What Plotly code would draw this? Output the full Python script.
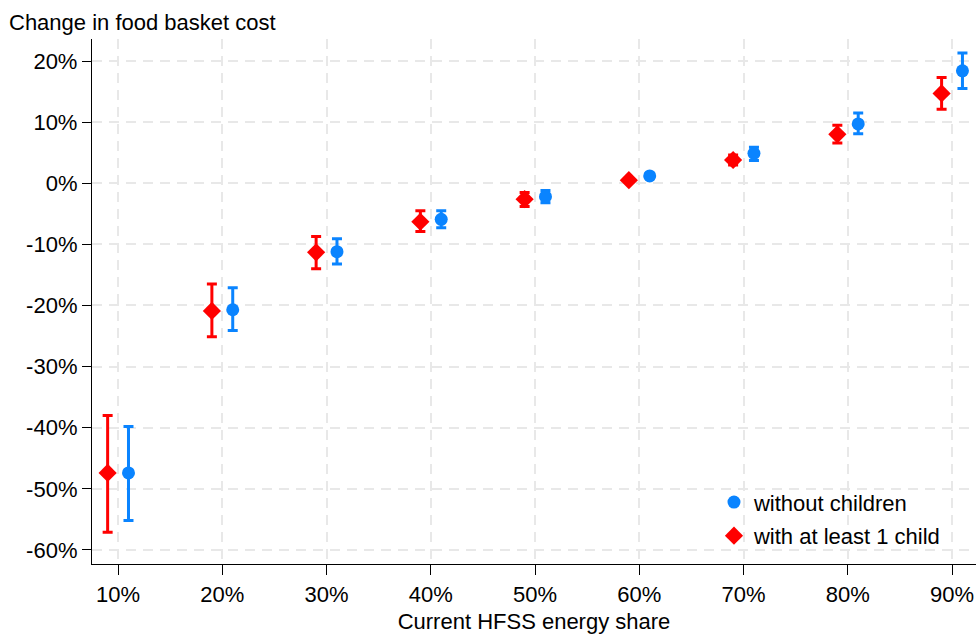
import plotly.graph_objects as go

# Current HFSS energy share (%) for each household bin
shares = [10, 20, 30, 40, 50, 60, 70, 80, 90]

# Households without children: estimate and 95% interval (%)
without_est = [-47.4, -20.7, -11.2, -5.9, -2.2, 1.2, 4.9, 9.7, 18.4]
without_lo = [-55.2, -24.1, -13.2, -7.3, -3.2, 0.8, 3.7, 8.1, 15.5]
without_hi = [-39.8, -17.1, -9.1, -4.5, -1.2, 1.6, 5.9, 11.5, 21.3]

# Households with at least one child: estimate and 95% interval (%)
child_est = [-47.4, -20.9, -11.3, -6.3, -2.6, 0.5, 3.8, 8.0, 14.7]
child_lo = [-57.1, -25.1, -14.0, -7.9, -3.8, 0.2, 3.0, 6.6, 12.1]
child_hi = [-38.0, -16.5, -8.7, -4.5, -1.5, 0.8, 4.6, 9.5, 17.3]

y_ticks = [-60, -50, -40, -30, -20, -10, 0, 10, 20]

BLUE = "#0a84ff"
RED = "#ff0000"
FONT = "Liberation Sans"
FS = 22
DODGE = 1.0  # horizontal offset so the two groups sit side by side


def err(est, lo, hi):
    plus = [h - e for e, h in zip(est, hi)]
    minus = [e - l for e, l in zip(est, lo)]
    return plus, minus


fig = go.Figure()

wp, wm = err(without_est, without_lo, without_hi)
fig.add_trace(go.Scatter(
    x=[s + DODGE for s in shares], y=without_est,
    mode="markers", name="without children", legendgroup="a",
    marker=dict(symbol="circle", size=13, color=BLUE),
    error_y=dict(type="data", symmetric=False, array=wp, arrayminus=wm,
                 color=BLUE, thickness=3, width=5),
))

cp, cm = err(child_est, child_lo, child_hi)
fig.add_trace(go.Scatter(
    x=[s - DODGE for s in shares], y=child_est,
    mode="markers", name="with at least 1 child", legendgroup="b",
    marker=dict(symbol="diamond", size=14, color=RED),
    error_y=dict(type="data", symmetric=False, array=cp, arrayminus=cm,
                 color=RED, thickness=3, width=5),
))

txt = dict(family=FONT, size=FS, color="black")
grid = dict(showgrid=True, gridcolor="#e8e8e8", gridwidth=2, griddash="10px,7px")
axis_common = dict(showline=True, linecolor="black", linewidth=1.3,
                   ticks="outside", tickcolor="black", tickwidth=1.3,
                   zeroline=False, tickfont=txt, **grid)

fig.update_layout(
    width=976, height=634,
    margin=dict(l=92, r=0, t=39, b=70),
    paper_bgcolor="white", plot_bgcolor="white",
    font=txt,
    title=dict(text="Change in food basket cost", x=9 / 976, xref="container",
               xanchor="left", y=1 - 22 / 634, yref="container", yanchor="middle",
               font=txt),
    showlegend=True,
    legend=dict(x=0.7036, xanchor="left", y=0.1575, yanchor="top",
                bgcolor="rgba(0,0,0,0)", traceorder="grouped", tracegroupgap=2,
                font=txt),
    xaxis=dict(range=[7.5, 92.3], tickvals=shares,
               ticktext=[f"{s}%" for s in shares], ticklen=10,
               title=dict(text="Current HFSS energy share", standoff=8, font=txt),
               **axis_common),
    yaxis=dict(range=[-62.3, 23.6], tickvals=y_ticks,
               ticktext=[f"{v}%" for v in y_ticks], ticklen=9,
               **axis_common),
)

fig.write_html("out.html")
